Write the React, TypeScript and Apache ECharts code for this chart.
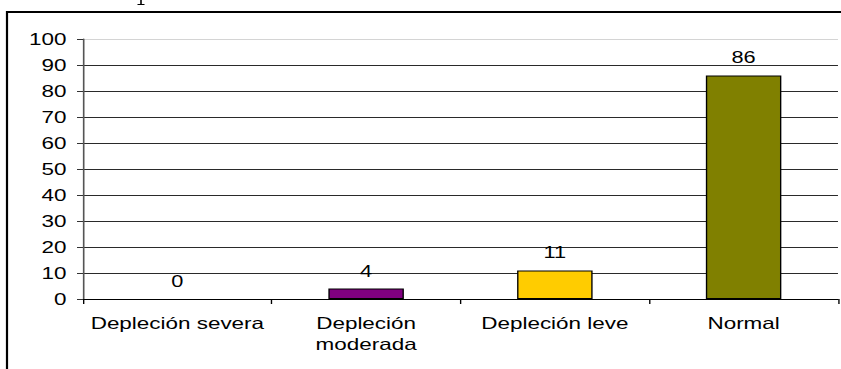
import React, { useEffect, useRef } from "react";
import * as echarts from "echarts";

// Categories and values
const categories: string[] = [
  "Depleción severa",
  "Depleción\nmoderada",
  "Depleción leve",
  "Normal",
];
const values: number[] = [0, 4, 11, 86];
const barColors: string[] = ["#9999FF", "#800080", "#FFCC00", "#808000"];

// Value axis range
const yMin = 0;
const yMax = 100;
const yStep = 10;

// The chart is laid out on a narrower canvas and stretched horizontally.
const PAGE_W = 841;
const PAGE_H = 369;
const STRETCH = 1.3608;
const CHART_W = Math.round(PAGE_W / STRETCH);

const FONT = '"Liberation Sans", Arial, Helvetica, sans-serif';

export default function App() {
  const ref = useRef<HTMLDivElement>(null);

  useEffect(() => {
    if (!ref.current) return;
    const chart = echarts.init(ref.current, undefined, { renderer: "svg" });
    const sx = (px: number) => px / STRETCH;

    // one colour per split line, bottom to top; the top edge is lighter
    const lineTotal = (yMax - yMin) / yStep + 1;
    const gridColors = Array.from({ length: lineTotal }, (_, i) =>
      i === lineTotal - 1 ? "#d4d4d4" : "#2a2a2a"
    );

    chart.setOption({
      animation: false,
      backgroundColor: "#ffffff",
      textStyle: { fontFamily: FONT },
      grid: {
        left: sx(83),
        right: sx(3),
        top: 39,
        bottom: 70,
      },
      xAxis: {
        type: "category",
        data: categories,
        axisLine: { show: true, lineStyle: { color: "#000", width: 1 } },
        axisTick: {
          show: true,
          length: 5,
          alignWithLabel: false,
          lineStyle: { color: "#000" },
        },
        axisLabel: {
          interval: 0,
          fontSize: 16.5,
          color: "#000",
          margin: 14,
          lineHeight: 21,
          fontFamily: FONT,
        },
        splitLine: { show: false },
      },
      yAxis: {
        type: "value",
        min: yMin,
        max: yMax,
        interval: yStep,
        axisLine: { show: true, lineStyle: { color: "#555", width: 1.2 } },
        axisTick: {
          show: true,
          length: sx(6),
          lineStyle: { color: "#333" },
        },
        axisLabel: {
          fontSize: 16.5,
          color: "#000",
          margin: sx(16.5),
          fontFamily: FONT,
        },
        splitLine: {
          show: true,
          showMinLine: true,
          showMaxLine: true,
          lineStyle: { color: gridColors, width: 1 },
        },
      },
      series: [
        {
          type: "bar",
          barWidth: "40%",
          data: values.map((v, i) => ({
            value: v,
            itemStyle: {
              color: barColors[i],
              borderColor: "#000",
              borderWidth: v === 0 ? 0 : 1,
            },
          })),
          label: {
            show: true,
            position: "top",
            distance: 9.5,
            fontSize: 16,
            color: "#000",
            fontFamily: FONT,
          },
        },
      ],
      graphic: [
        // outer frame (left and top edges)
        {
          type: "line",
          shape: { x1: sx(7), y1: 11, x2: sx(7), y2: PAGE_H + 5 },
          style: { stroke: "#000", lineWidth: sx(2.2) },
          silent: true,
        },
        {
          type: "line",
          shape: { x1: sx(6), y1: 12, x2: CHART_W + 5, y2: 12 },
          style: { stroke: "#000", lineWidth: 2 },
          silent: true,
        },
        // descender of the clipped heading above the frame
        {
          type: "line",
          shape: { x1: sx(141), y1: 0, x2: sx(141), y2: 4.5 },
          style: { stroke: "#000", lineWidth: sx(1.6) },
          silent: true,
        },
        {
          type: "line",
          shape: { x1: sx(137.5), y1: 4.5, x2: sx(144.5), y2: 4.5 },
          style: { stroke: "#000", lineWidth: 1 },
          silent: true,
        },
      ],
    });

    return () => chart.dispose();
  }, []);

  return (
    <div
      style={{
        position: "fixed",
        left: 0,
        top: 0,
        width: PAGE_W,
        height: PAGE_H,
        overflow: "hidden",
        background: "#fff",
      }}
    >
      <div
        ref={ref}
        style={{
          width: CHART_W,
          height: PAGE_H,
          transform: `scaleX(${STRETCH})`,
          transformOrigin: "0 0",
        }}
      />
    </div>
  );
}
